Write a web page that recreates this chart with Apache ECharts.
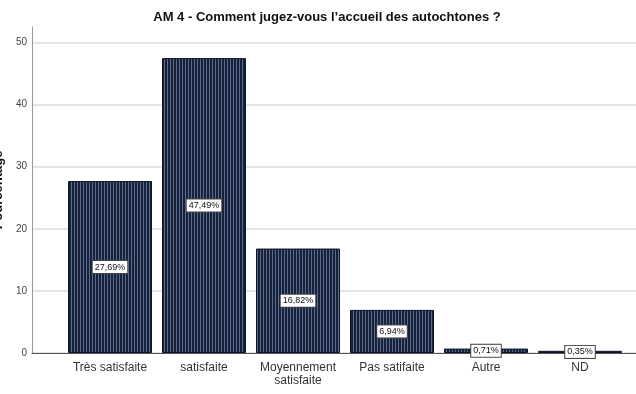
<!DOCTYPE html>
<html>
<head>
<meta charset="utf-8">
<script src="https://cdn.jsdelivr.net/npm/echarts@6/dist/echarts.min.js"></script>
<style>
html,body{margin:0;padding:0;background:#fff;}
#c{width:636px;height:394px;}
</style>
</head>
<body>
<div id="c"></div>
<script>
var titleText = "AM 4 - Comment jugez-vous l\u2019accueil des autochtones ?";
var yAxisName = "Pourcentage";
var categories = ["Très satisfaite", "satisfaite", "Moyennement\nsatisfaite", "Pas satifaite", "Autre", "ND"];
var percentages = [27.69, 47.49, 16.82, 6.94, 0.71, 0.35];
var yTicks = [0, 10, 20, 30, 40, 50];

var cv = document.createElement('canvas');
cv.width = 3; cv.height = 4;
var cx = cv.getContext('2d');
cx.fillStyle = '#16223b';
cx.fillRect(0, 0, 3, 4);
cx.fillStyle = '#5a6a88';
cx.fillRect(2, 0, 1, 4);

var chart = echarts.init(document.getElementById('c'), null, {renderer: 'canvas'});
var yMax = 52.5;
var option = {
  animation: false,
  backgroundColor: '#fff',
  title: {
    text: titleText,
    left: 322,
    textAlign: 'center',
    top: 6,
    textStyle: {fontFamily: 'Liberation Sans, Arial, sans-serif', fontSize: 13, fontWeight: 'bold', color: '#111'}
  },
  grid: [
    {left: 32, right: 0, top: 27, bottom: 41, containLabel: false, outerBoundsMode: 'none'},
    {left: 63, right: 9, top: 27, bottom: 41, containLabel: false, outerBoundsMode: 'none'}
  ],
  xAxis: [
    {gridIndex: 0, type: 'value', min: 0, max: 1, axisLabel: {show: false}, axisTick: {show: false}, splitLine: {show: false},
     axisLine: {show: true, onZero: false, lineStyle: {color: '#555', width: 1}}},
    {gridIndex: 1, type: 'category', data: categories, axisLine: {show: false}, axisTick: {show: false},
     axisLabel: {margin: 8, fontFamily: 'Liberation Sans, Arial, sans-serif', fontSize: 12, color: '#333', lineHeight: 13, interval: 0}}
  ],
  yAxis: [
    {gridIndex: 0, type: 'value', min: 0, max: yMax, interval: 10,
     name: yAxisName, nameLocation: 'middle', nameGap: 24, nameRotate: 90,
     nameTextStyle: {fontFamily: 'Liberation Sans, Arial, sans-serif', fontSize: 13, fontWeight: 'bold', color: '#111'},
     axisLine: {show: true, lineStyle: {color: '#999', width: 1}},
     axisTick: {show: false},
     axisLabel: {margin: 5, fontFamily: 'Liberation Sans, Arial, sans-serif', fontSize: 10, color: '#444', showMaxLabel: false,
       formatter: function (v) { return yTicks.indexOf(v) >= 0 ? String(v) : ''; }},
     splitLine: {show: true, showMaxLine: false, lineStyle: {color: '#dcdcdc', width: 1.5}}
    },
    {gridIndex: 1, type: 'value', min: 0, max: yMax, show: false, splitLine: {show: false}}
  ],
  series: [{
    type: 'bar',
    xAxisIndex: 1, yAxisIndex: 1,
    data: percentages,
    barWidth: 84,
    itemStyle: {color: {image: cv, repeat: 'repeat'}, borderColor: '#0d1526', borderWidth: 1},
    label: {
      show: true, position: 'inside',
      formatter: function (p) { return p.value.toFixed(2).replace('.', ',') + '%'; },
      fontFamily: 'Liberation Sans, Arial, sans-serif', fontSize: 9, color: '#111',
      backgroundColor: '#fff', borderColor: '#444', borderWidth: 1, padding: [2, 2, 1, 2]
    }
  }]
};
chart.setOption(option);
</script>
</body>
</html>
